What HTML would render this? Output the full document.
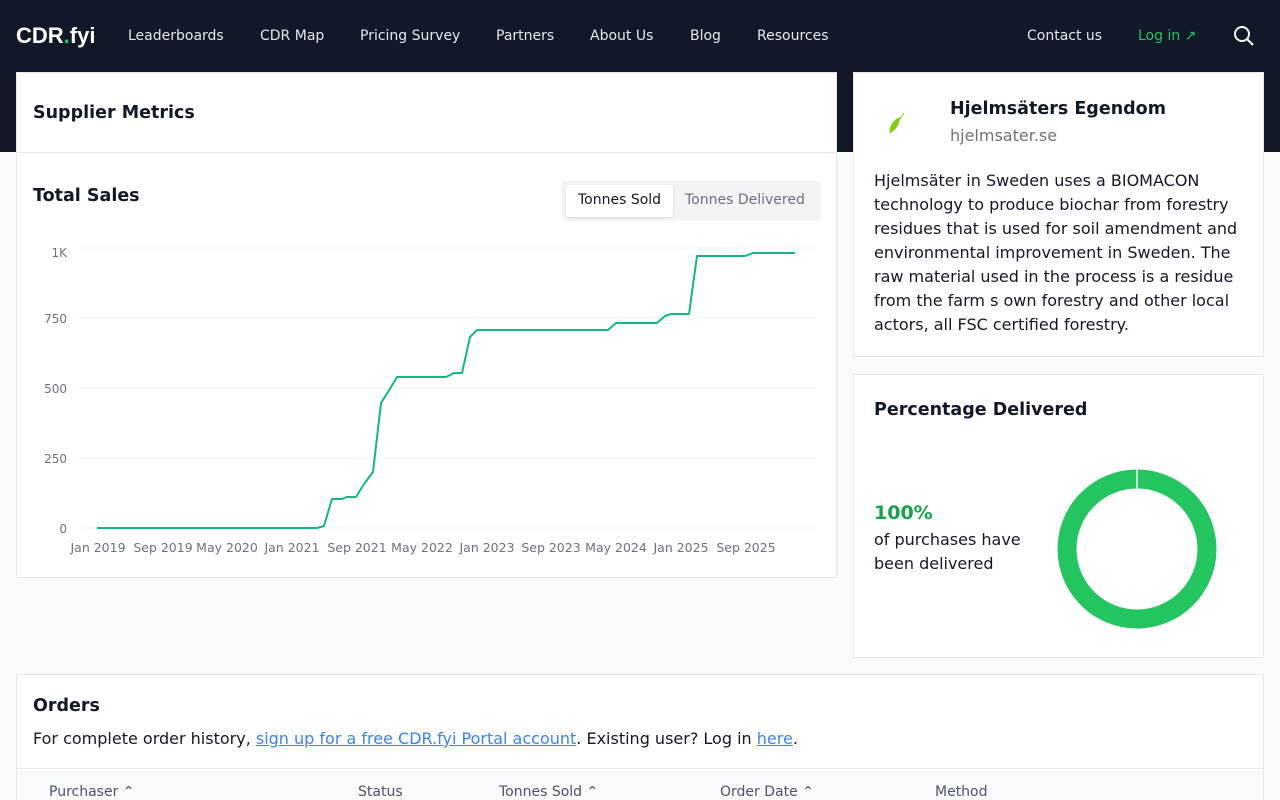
<!DOCTYPE html>
<html><head><meta charset="utf-8"><style>
*{box-sizing:border-box;margin:0;padding:0}
html,body{width:1280px;height:800px;overflow:hidden}
body{background:#f9fafb;font-family:"Liberation Sans","DejaVu Sans",sans-serif;color:#111827;position:relative}
.nav{position:absolute;left:0;top:0;width:1280px;height:152px;background:#111827}
.logo{position:absolute;left:16px;top:23px;font-size:22px;font-weight:bold;color:#fff}
.logo span{color:#22c55e}
.ni{position:absolute;top:28px;font-size:14px;color:#e5e7eb;font-family:"DejaVu Sans",sans-serif}
.card{position:absolute;background:#fff;border:1px solid #e5e7eb;overflow:hidden}
.t{position:absolute;font-family:"DejaVu Sans",sans-serif}
.h{font-weight:bold;font-size:17.5px}
</style></head><body>
<div class="nav">
<div class="logo">CDR<span>.</span>fyi</div>
<div class="ni" style="left:128px">Leaderboards</div>
<div class="ni" style="left:260px">CDR Map</div>
<div class="ni" style="left:360px">Pricing Survey</div>
<div class="ni" style="left:496px">Partners</div>
<div class="ni" style="left:590px">About Us</div>
<div class="ni" style="left:690px">Blog</div>
<div class="ni" style="left:757px">Resources</div>
<div class="ni" style="left:1027px">Contact us</div>
<div class="ni" style="left:1138px;color:#22c55e">Log in ↗</div>
<svg style="position:absolute;left:1233px;top:25px" width="22" height="22" viewBox="0 0 22 22"><circle cx="9" cy="9" r="7" fill="none" stroke="#fff" stroke-width="2"/><line x1="14" y1="14" x2="20" y2="20" stroke="#fff" stroke-width="2"/></svg>
</div>

<div class="card" style="left:16px;top:72px;width:821px;height:506px">
<div class="t h" style="left:16px;top:30px">Supplier Metrics</div>
<div style="position:absolute;left:0;right:0;top:79px;border-top:1px solid #e5e7eb"></div>
<div class="t h" style="left:16px;top:113px">Total Sales</div>
<div style="position:absolute;left:545px;top:108px;width:259px;height:40px;background:#f3f4f6;border-radius:4px"></div>
<div style="position:absolute;left:549px;top:112px;width:107px;height:32px;background:#fff;border-radius:3px;box-shadow:0 1px 2px rgba(0,0,0,.1)"></div>
<div class="t" style="left:561px;top:119px;font-size:14px">Tonnes Sold</div>
<div class="t" style="left:668px;top:119px;font-size:14px;color:#6b7280">Tonnes Delivered</div>
</div>
<svg style="position:absolute;left:0;top:0" width="840" height="580">
<g stroke="#eef0f3" stroke-width="1">
<line x1="78" y1="248" x2="815" y2="248"/><line x1="78" y1="318" x2="815" y2="318"/><line x1="78" y1="388" x2="815" y2="388"/><line x1="78" y1="458" x2="815" y2="458"/><line x1="78" y1="528" x2="815" y2="528"/></g>
<g font-family="DejaVu Sans,sans-serif" font-size="12" fill="#6b7280" text-anchor="end">
<text x="67" y="257">1K</text><text x="67" y="323">750</text><text x="67" y="393">500</text><text x="67" y="463">250</text><text x="67" y="533">0</text></g>
<g font-family="DejaVu Sans,sans-serif" font-size="12.5" fill="#6b7280" text-anchor="middle">
<text x="98" y="552">Jan 2019</text><text x="163" y="552">Sep 2019</text><text x="227" y="552">May 2020</text><text x="292" y="552">Jan 2021</text><text x="357" y="552">Sep 2021</text><text x="422" y="552">May 2022</text><text x="487" y="552">Jan 2023</text><text x="551" y="552">Sep 2023</text><text x="616" y="552">May 2024</text><text x="681" y="552">Jan 2025</text><text x="746" y="552">Sep 2025</text></g>
<polyline fill="none" stroke="#10b981" stroke-width="2" stroke-linejoin="round" points="97,528 317,528 324,526 332,499 342,499 347,497 356,497 364,484 373,472 381,403 388,392 397,377 446,377 454,373 462,373 470,337 477,330 608,330 616,323 657,323 665,316 671,314 689,314 697,256 745,256 753,253 795,253"/>
</svg>

<div class="card" style="left:853px;top:72px;width:411px;height:285px">
<svg style="position:absolute;left:32px;top:38px" width="22" height="26" viewBox="0 0 22 26"><path d="M4 22 C2 16 8 8 14 6 C14 12 10 20 4 22Z" fill="#84cc16"/><line x1="4" y1="22" x2="18" y2="2" stroke="#84cc16" stroke-width="1"/></svg>
<div class="t h" style="left:96px;top:26px">Hjelmsäters Egendom</div>
<div class="t" style="left:96px;top:53px;font-size:16px;color:#6b7280">hjelmsater.se</div>
<div class="t" style="left:20px;top:96px;width:375px;font-size:16px;line-height:24px;color:#111827">Hjelmsäter in Sweden uses a BIOMACON technology to produce biochar from forestry residues that is used for soil amendment and environmental improvement in Sweden. The raw material used in the process is a residue from the farm s own forestry and other local actors, all FSC certified forestry.</div>
</div>

<div class="card" style="left:853px;top:374px;width:411px;height:284px">
<div class="t h" style="left:20px;top:25px">Percentage Delivered</div>
<div class="t" style="left:20px;top:127px;font-size:19px;font-weight:bold;color:#16a34a">100%</div>
<div class="t" style="left:20px;top:153px;font-size:16px;line-height:24px">of purchases have<br>been delivered</div>
<svg style="position:absolute;left:202px;top:94px" width="162" height="162"><circle cx="81" cy="80" r="70" fill="none" stroke="#22c55e" stroke-width="19"/><line x1="81" y1="0" x2="81" y2="21" stroke="#fff" stroke-width="1.5"/></svg>
</div>

<div class="card" style="left:16px;top:674px;width:1248px;height:140px">
<div class="t h" style="left:16px;top:21px">Orders</div>
<div class="t" style="left:16px;top:54px;font-size:16px">For complete order history, <span style="color:#3b82f6;text-decoration:underline">sign up for a free CDR.fyi Portal account</span>. Existing user? Log in <span style="color:#3b82f6;text-decoration:underline">here</span>.</div>
<div style="position:absolute;left:0;right:0;top:93px;height:50px;background:#f9fafb;border-top:1px solid #e5e7eb"></div>
<div class="t" style="left:32px;top:109px;font-size:14px;color:#4b5563">Purchaser ⌃</div>
<div class="t" style="left:341px;top:109px;font-size:14px;color:#4b5563">Status</div>
<div class="t" style="left:482px;top:109px;font-size:14px;color:#4b5563">Tonnes Sold ⌃</div>
<div class="t" style="left:703px;top:109px;font-size:14px;color:#4b5563">Order Date ⌃</div>
<div class="t" style="left:918px;top:109px;font-size:14px;color:#4b5563">Method</div>
</div>
</body></html>
